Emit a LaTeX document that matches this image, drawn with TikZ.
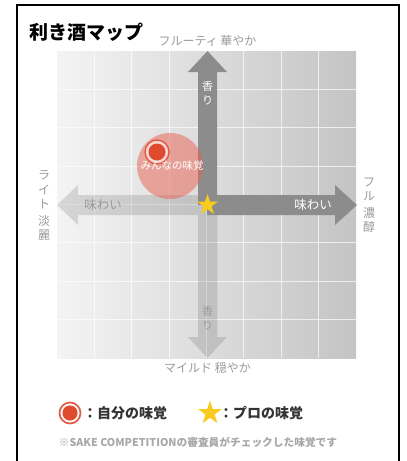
\documentclass[tikz,border=0pt]{standalone}
\usepackage{fontspec}
\setmainfont{Noto Sans CJK JP}
\usetikzlibrary{shapes.geometric}
\definecolor{darkarr}{HTML}{8C8C8C}
\definecolor{bgleft}{HTML}{F4F4F4}
\definecolor{bgright}{HTML}{C4C4C4}
\definecolor{axistext}{HTML}{9A9A9A}
\definecolor{tasteRed}{HTML}{E04A2E}
\definecolor{ringRed}{HTML}{E35A43}
\definecolor{bubbleRed}{HTML}{E8604F}
\definecolor{starYellow}{HTML}{F9CB1C}
\definecolor{legendText}{HTML}{333333}
\definecolor{noteText}{HTML}{A8A8A8}
\tikzset{
  lightarrow/.style={fill=black, fill opacity=0.12, draw=none},
  darkarrow/.style={fill=darkarr, draw=none},
  axislabel/.style={text=axistext, inner sep=0pt, align=center},
  stacklabel/.style={text=axistext, inner sep=0pt, align=center, font=\fontsize{12}{14.5}\selectfont},
  gridline/.style={draw=white, draw opacity=0.7, line width=0.8pt},
  prostar/.style={star, star points=5, star point ratio=2.6, fill=starYellow, draw=none, inner sep=0pt},
}
\begin{document}
\begin{tikzpicture}[x=1pt,y=-1pt]
\useasboundingbox (0,0) rectangle (407,461);
\clip (0,0) rectangle (407,461);
% frame
\draw[line width=1.8pt] (17,470) -- (17,5) -- (399,5) -- (399,470);
% plot background
\shade[left color=bgleft, right color=bgright] (57,51) rectangle (356,358);
% grid
\foreach \i in {1,...,7} {
  \draw[gridline] ({57+\i*37.375},51) -- ({57+\i*37.375},358);
  \draw[gridline] (57,{51+\i*38.375}) -- (356,{51+\i*38.375});
}
% light arrows (left, down)
\fill[lightarrow] (207,195) -- (78,195) -- (78,185) -- (57,205) -- (78,225) -- (78,215) -- (207,215) -- cycle;
\fill[lightarrow] (198,215) -- (198,337) -- (188,337) -- (207.5,358) -- (227,337) -- (217,337) -- (217,215) -- cycle;
% dark arrows (up, right)
\fill[darkarrow] (198,205) -- (198,72) -- (188,72) -- (207.5,51) -- (227,72) -- (217,72) -- (217,205) -- cycle;
\fill[darkarrow] (207,195) -- (335,195) -- (335,185) -- (357,205) -- (335,225) -- (335,215) -- (207,215) -- cycle;
% arrow labels
\node[text=white, inner sep=0pt, align=center, font=\fontsize{11}{13.5}\selectfont] (upl) at (207.5,93) {香\\り};
\node[axislabel, font=\fontsize{11}{13.5}\selectfont] (downl) at (207.5,318) {香\\り};
\node[axislabel, font=\fontsize{12.5}{14}\selectfont] (leftl) at (103,205) {味わい};
\node[text=white, inner sep=0pt, font=\fontsize{12.5}{14}\selectfont] (rightl) at (313,205) {味わい};
% star
\node[prostar, minimum size=22pt] (pro) at (207.5,205) {};
% bubble
\fill[bubbleRed, fill opacity=0.5] (170,166) circle[radius=33];
\node[circle, draw=ringRed, line width=1.4pt, fill=white, fill opacity=0.6, draw opacity=1, minimum size=24pt, inner sep=0pt] (myring) at (157,152) {};
\fill[tasteRed] (157,152) circle[radius=8.5];
\node[text=white, inner sep=0pt, font=\fontsize{10.5}{12}\selectfont] (minna) at (172,166) {みんなの味覚};
% axis labels
\node[axislabel, font=\fontsize{12}{14}\selectfont] (top) at (207.5,41) {フルーティ 華やか};
\node[axislabel, font=\fontsize{12}{14}\selectfont] (bottom) at (207.5,368) {マイルド 穏やか};
\node[stacklabel] (leftax) at (44,206) {ラ\\イ\\ト\\[2pt]淡\\麗};
\node[stacklabel] (rightax) at (369,205) {フ\\ル\\[2pt]濃\\醇};
% title
\node[anchor=west, inner sep=0pt, font=\bfseries\fontsize{19}{20}\selectfont] (title) at (29,32) {利き酒マップ};
% legend
\node[circle, draw=ringRed, line width=1.7pt, fill=white, minimum size=21pt, inner sep=0pt] (legring) at (70,413) {};
\fill[tasteRed] (70,413) circle[radius=7.6];
\node[anchor=west, inner sep=0pt, text=legendText, font=\bfseries\fontsize{14}{16}\selectfont] (legself) at (83,413) {：自分の味覚};
\node[prostar, minimum size=25pt] (legstar) at (210,413) {};
\node[anchor=west, inner sep=0pt, text=legendText, font=\bfseries\fontsize{14}{16}\selectfont] (legpro) at (219,413) {：プロの味覚};
\node[inner sep=0pt, text=noteText, font=\bfseries\fontsize{10.7}{12}\selectfont] (note) at (198,442) {※SAKE COMPETITIONの審査員がチェックした味覚です};
\end{tikzpicture}
\end{document}
